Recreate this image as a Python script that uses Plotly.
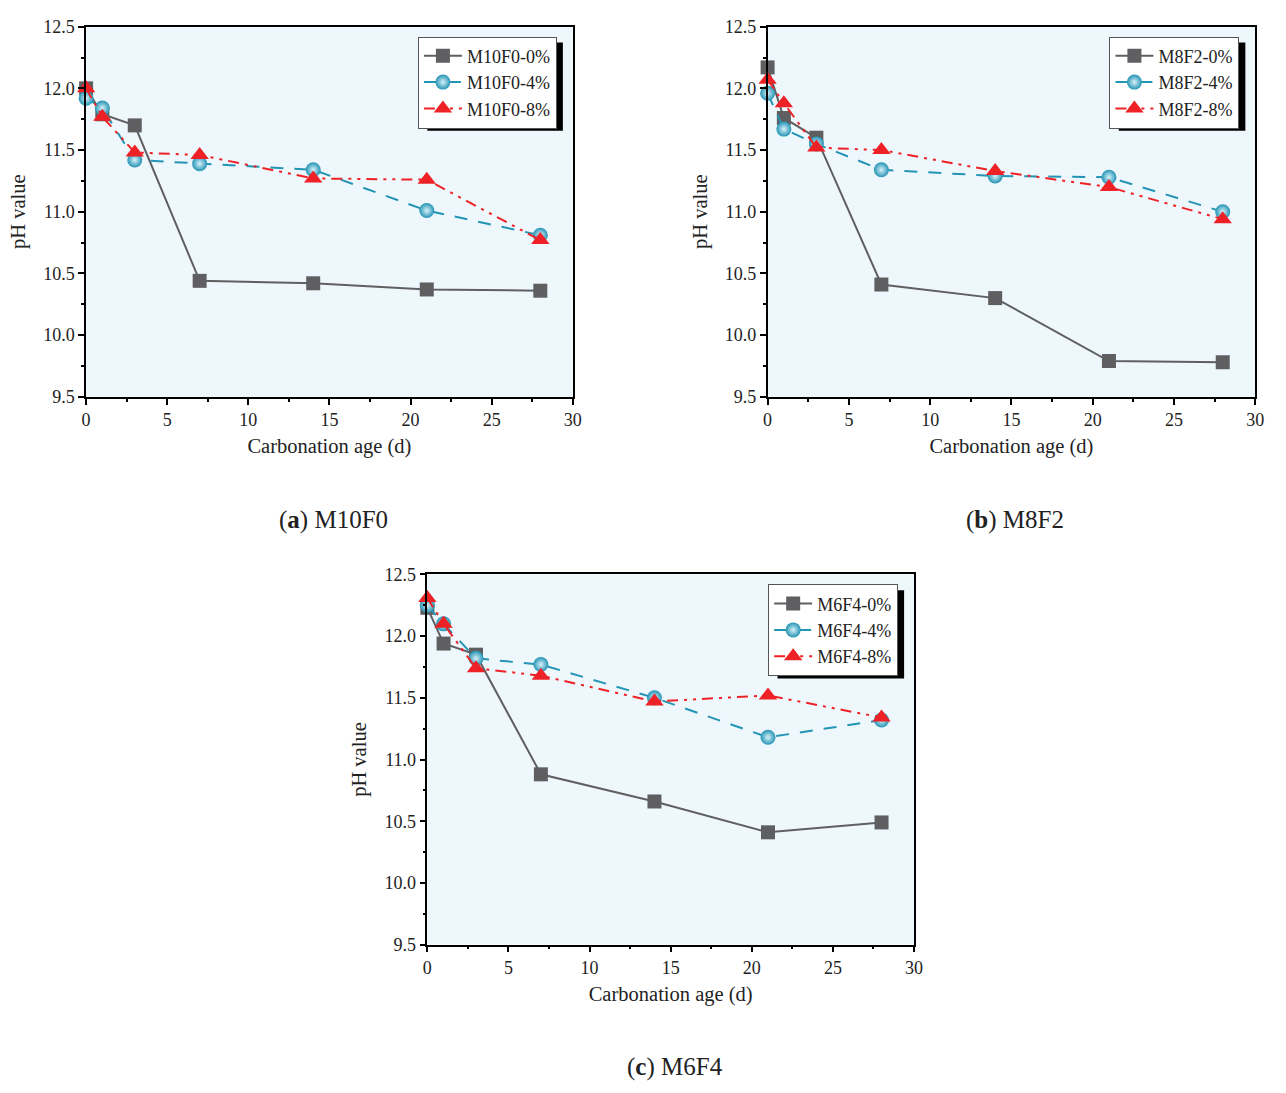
import plotly.graph_objects as go

# Carbonation age (days)
age = [0, 1, 3, 7, 14, 21, 28]

# pH values for each mix
m10f0_0 = [12.00, 11.79, 11.70, 10.44, 10.42, 10.37, 10.36]
m10f0_4 = [11.92, 11.84, 11.42, 11.39, 11.34, 11.01, 10.81]
m10f0_8 = [12.00, 11.77, 11.48, 11.46, 11.27, 11.26, 10.77]

m8f2_0 = [12.17, 11.76, 11.60, 10.41, 10.30, 9.79, 9.78]
m8f2_4 = [11.96, 11.67, 11.55, 11.34, 11.29, 11.28, 11.00]
m8f2_8 = [12.07, 11.88, 11.52, 11.50, 11.33, 11.20, 10.94]

m6f4_0 = [12.23, 11.94, 11.85, 10.88, 10.66, 10.41, 10.49]
m6f4_4 = [12.25, 12.10, 11.82, 11.77, 11.50, 11.18, 11.32]
m6f4_8 = [12.31, 12.10, 11.74, 11.68, 11.47, 11.52, 11.34]

panel_names = ["M10F0", "M8F2", "M6F4"]
panel_letters = ["a", "b", "c"]
levels = ["0%", "4%", "8%"]
panel_series = [
    [m10f0_0, m10f0_4, m10f0_8],
    [m8f2_0, m8f2_4, m8f2_8],
    [m6f4_0, m6f4_4, m6f4_8],
]

W, H = 1286, 1093
FONT = "Liberation Serif"

# pixel boxes of each plotting area: (left, right, top, bottom)
boxes = [(82, 574, 17, 394), (771, 1264, 17, 394), (427, 919, 575, 952)]
# legend box sizes (px) for each panel, used for the drop shadow
legend_widths = [137, 128, 128]
LEGEND_H = 90

GRAY = "#5f5f62"
TEAL = "#2494b4"
RED = "#ee2226"

styles = [
    dict(line=dict(color=GRAY, width=2, dash="solid"),
         marker=dict(symbol="square", size=14, color=GRAY)),
    dict(line=dict(color=TEAL, width=2, dash="13px,11px"),
         marker=dict(symbol="circle", size=15, color=TEAL,
                     gradient=dict(type="radial", color="#d8f2fa"),
                     line=dict(width=0))),
    dict(line=dict(color=RED, width=2, dash="11px,6px,3px,6px,3px,6px"),
         marker=dict(symbol="triangle-up", size=16, color=RED)),
]

fig = go.Figure()
layout = dict(
    width=W, height=H,
    margin=dict(l=0, r=0, t=0, b=0),
    paper_bgcolor="white",
    plot_bgcolor="#eef8fc",
    font=dict(family=FONT, size=17, color="black"),
    shapes=[], annotations=[],
)


def px(x):
    return x / W


def py(y):
    return 1 - y / H


for i, (name, letter, series, box) in enumerate(zip(panel_names, panel_letters, panel_series, boxes)):
    l, r, t, b = box
    sfx = "" if i == 0 else str(i + 1)
    xa, ya = "x" + sfx, "y" + sfx
    leg = "legend" + sfx
    for lev, vals, st in zip(levels, series, styles):
        fig.add_trace(go.Scatter(
            x=age, y=vals, mode="lines+markers",
            name=f"{name}-{lev}",
            xaxis=xa, yaxis=ya, legend=leg,
            line=st["line"], marker=st["marker"],
            cliponaxis=False,
        ))

    axis_common = dict(
        showgrid=False, zeroline=False, showline=True, linecolor="black",
        linewidth=1.5, mirror=True, ticks="outside", ticklen=6, tickwidth=1.5,
        tickcolor="black", tickfont=dict(family=FONT, size=18, color="#222"),
    )
    layout["xaxis" + sfx] = dict(
        axis_common, domain=[px(l), px(r)], anchor=ya, range=[0, 30],
        tick0=0, dtick=5,
        minor=dict(dtick=2.5, ticks="outside", ticklen=3, tickwidth=1.5, tickcolor="black"),
        title=dict(text="Carbonation age (d)", font=dict(family=FONT, size=20.5, color="#222"), standoff=10),
    )
    layout["yaxis" + sfx] = dict(
        axis_common, domain=[py(b), py(t)], anchor=xa, range=[9.5, 12.5],
        tick0=9.5, dtick=0.5, tickformat=".1f",
        minor=dict(dtick=0.25, ticks="outside", ticklen=3, tickwidth=1.5, tickcolor="black"),
        title=dict(text="pH value", font=dict(family=FONT, size=20.5, color="#222"), standoff=12),
    )

    # legend box in the upper right corner, with a drop shadow behind it
    lx_right, ly_top = r - 16, t + 10
    lw = legend_widths[i]
    layout["shapes"].append(dict(
        type="rect", xref="paper", yref="paper", layer="above",
        x0=px(lx_right - lw + 6), x1=px(lx_right + 6),
        y0=py(ly_top + LEGEND_H + 6), y1=py(ly_top + 6),
        fillcolor="black", line=dict(width=0),
    ))
    layout[leg] = dict(
        x=px(lx_right), y=py(ly_top), xanchor="right", yanchor="top",
        xref="paper", yref="paper",
        bgcolor="white", bordercolor="#555", borderwidth=1,
        font=dict(family=FONT, size=18, color="#222"),
        itemwidth=38, tracegroupgap=0,
    )

    # panel caption beneath each chart
    layout["annotations"].append(dict(
        text=f"(<b>{letter}</b>) {name}", xref="paper", yref="paper",
        x=px((l + r) / 2 + 4), y=py(b + 125), xanchor="center", yanchor="middle",
        showarrow=False, font=dict(family=FONT, size=25, color="#222"),
    ))

fig.update_layout(**layout)
fig.write_html("out.html")
